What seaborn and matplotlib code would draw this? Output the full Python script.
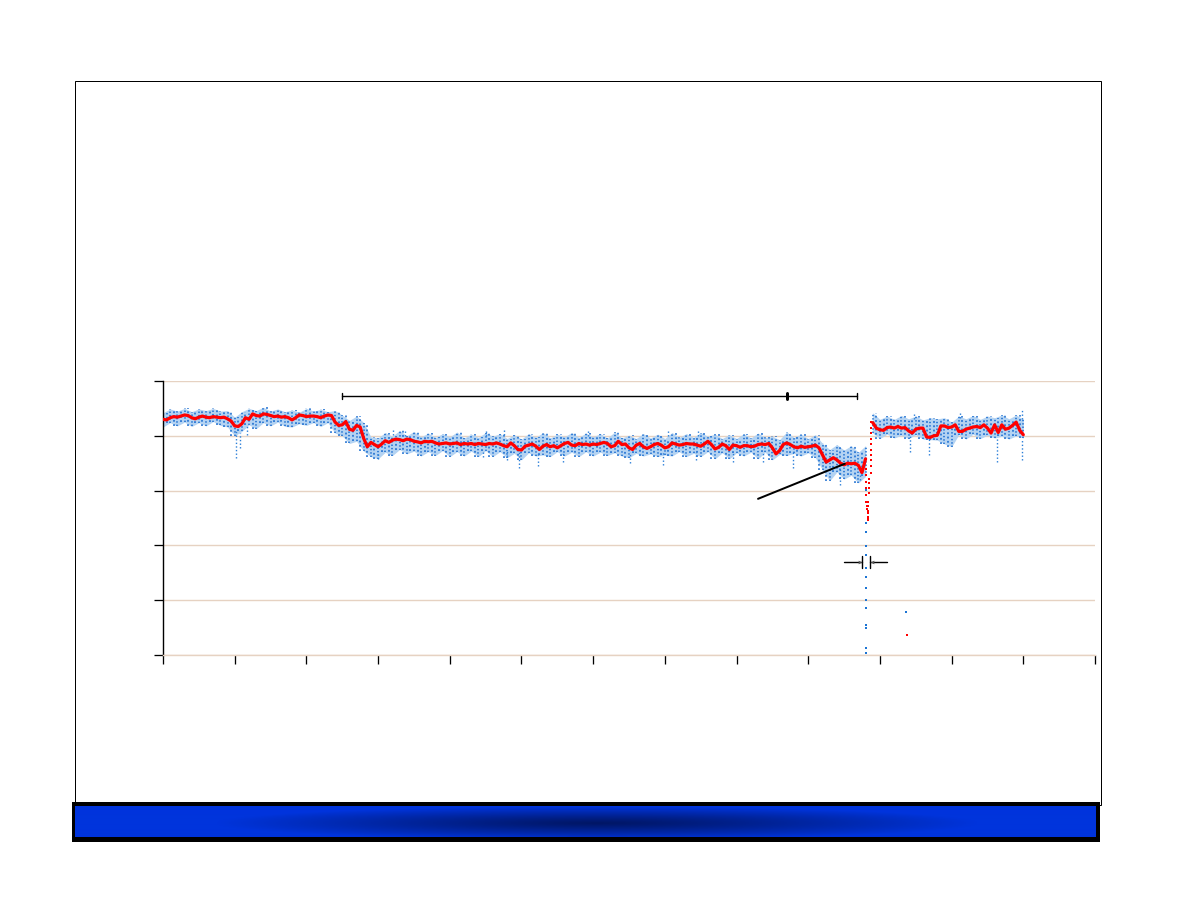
import numpy as np
import pandas as pd
import seaborn as sns
import matplotlib.pyplot as plt
from matplotlib.patches import Rectangle

# red smoothed trace, before and after the collapse (one value every 5 x units)
rojo_a = [4.30,4.29,4.33,4.35,4.34,4.36,4.38,4.37,4.33,4.31,
    4.34,4.36,4.34,4.33,4.35,4.34,4.33,4.34,4.31,4.27,
    4.18,4.17,4.22,4.33,4.30,4.40,4.37,4.36,4.40,4.39,
    4.37,4.35,4.36,4.34,4.35,4.33,4.29,4.33,4.38,4.37,
    4.35,4.36,4.36,4.35,4.33,4.36,4.38,4.37,4.25,4.19,
    4.20,4.26,4.12,4.10,4.19,4.16,3.95,3.80,3.88,3.84,
    3.80,3.85,3.91,3.88,3.92,3.94,3.93,3.91,3.94,3.93,
    3.90,3.89,3.87,3.90,3.89,3.90,3.87,3.85,3.86,3.87,
    3.85,3.86,3.87,3.84,3.86,3.85,3.86,3.84,3.86,3.85,
    3.84,3.86,3.85,3.87,3.85,3.82,3.80,3.87,3.82,3.75,
    3.74,3.81,3.83,3.85,3.81,3.75,3.81,3.84,3.80,3.82,
    3.78,3.82,3.86,3.88,3.83,3.82,3.86,3.84,3.85,3.83,
    3.85,3.84,3.86,3.88,3.86,3.80,3.82,3.90,3.84,3.85,
    3.78,3.75,3.83,3.86,3.80,3.77,3.80,3.84,3.86,3.83,
    3.78,3.80,3.87,3.85,3.83,3.84,3.86,3.85,3.85,3.83,
    3.81,3.85,3.90,3.84,3.76,3.79,3.85,3.82,3.75,3.83,
    3.82,3.79,3.82,3.82,3.80,3.81,3.84,3.85,3.84,3.86,
    3.78,3.67,3.73,3.84,3.87,3.84,3.80,3.78,3.81,3.79,
    3.80,3.81,3.83,3.78,3.65,3.52,3.56,3.60,3.56,3.50,
    3.47,3.50,3.49,3.50,3.46,3.33,3.58]
rojo_b = [4.24,4.14,4.11,4.10,4.15,4.16,4.14,4.17,4.14,4.15,
    4.09,4.05,4.12,4.14,4.14,3.98,3.97,4.00,4.01,4.18,
    4.18,4.15,4.16,4.20,4.08,4.08,4.12,4.14,4.16,4.17,
    4.15,4.20,4.14,4.05,4.20,4.06,4.20,4.12,4.14,4.19,
    4.25,4.10,4.02]

# the collapse itself, drawn as loose red dots
caida_x = [981,981,981,981,981,981,982,982,983,983,983,983,984,984,984,
    985,985,985,985,987,987,987,987,987,987,987,987,987,987,1038]
caida_y = [3.40,3.28,3.16,3.05,2.92,2.80,2.72,2.66,2.60,2.52,2.46,2.50,2.62,2.72,2.80,
    2.95,3.05,3.14,3.22,3.32,3.45,3.55,3.65,3.75,3.85,3.95,4.05,4.15,4.25,0.36]

# blue scatter, top and bottom of the band (one value every 10 x units)
banda_alta_a = [4.42,4.49,4.45,4.50,4.44,4.49,4.46,4.50,4.45,4.46,4.34,4.44,4.50,4.46,4.52,
    4.45,4.49,4.44,4.47,4.43,4.50,4.45,4.48,4.44,4.46,4.38,4.28,4.36,4.24,3.98,
    3.96,4.06,3.99,4.10,4.00,4.08,3.98,4.05,3.97,4.04,3.98,4.07,3.96,4.03,3.97,
    4.06,3.99,4.04,3.95,4.02,3.94,4.04,3.97,4.06,3.96,4.03,3.98,4.06,3.97,4.05,
    3.98,4.04,3.96,4.07,3.96,4.01,3.95,4.04,3.96,4.03,3.95,4.06,3.97,4.04,3.97,
    4.06,3.99,4.03,3.95,4.02,3.95,4.04,3.96,4.05,3.97,3.99,3.93,4.07,3.97,4.03,
    3.95,4.02,3.86,3.75,3.84,3.74,3.82,3.70,3.82]
banda_baja_a = [4.16,4.24,4.18,4.25,4.17,4.24,4.18,4.26,4.19,4.16,4.00,4.08,4.20,4.13,4.24,
    4.18,4.25,4.17,4.16,4.22,4.19,4.24,4.17,4.24,4.05,4.00,3.86,3.90,3.72,3.62,
    3.58,3.70,3.64,3.75,3.67,3.72,3.63,3.71,3.64,3.73,3.62,3.71,3.63,3.72,3.62,
    3.73,3.62,3.71,3.60,3.68,3.56,3.69,3.63,3.65,3.62,3.71,3.63,3.70,3.62,3.71,
    3.63,3.70,3.64,3.69,3.63,3.60,3.68,3.63,3.67,3.62,3.65,3.63,3.71,3.62,3.68,
    3.62,3.71,3.58,3.69,3.58,3.69,3.63,3.70,3.58,3.70,3.56,3.66,3.64,3.68,3.63,
    3.69,3.60,3.38,3.18,3.34,3.21,3.28,3.14,3.26]
banda_alta_b = [4.42,4.30,4.36,4.30,4.37,4.31,4.36,4.29,4.33,4.31,4.33,4.25,
    4.36,4.31,4.37,4.30,4.36,4.33,4.38,4.31,4.38,4.30]
banda_baja_b = [4.05,3.95,4.03,3.96,4.01,3.95,4.02,3.94,3.93,3.92,3.85,3.80,
    4.02,3.94,4.03,3.95,4.01,3.96,3.99,3.94,4.00,3.96]

# blue spikes that leave the band
pico_x = [102,107,117,300,321,338,447,451,475,480,497,523,558,593,651,697,704,746,744,795,
    837,879,944,972,1042,1047,1068,1112,1163,1198,1198]
pico_alto = [4.10,4.05,4.20,3.70,4.10,4.08,3.70,4.10,4.10,3.75,3.72,3.70,3.70,4.10,3.70,3.70,
    4.10,4.12,3.70,3.70,3.70,3.70,3.40,3.40,4.00,4.42,3.95,4.42,3.95,3.95,4.47]
pico_bajo = [3.60,3.78,4.01,3.58,4.02,4.00,3.62,4.00,4.02,3.56,3.41,3.44,3.53,4.00,3.50,3.47,
    4.00,4.00,3.56,3.53,3.53,3.41,3.10,3.20,3.71,4.30,3.65,4.32,3.53,3.56,4.30]

# isolated blue points below the band
suelto_x = [981,981,981,981,981,981,981,981,981,981,981,981,981,981,1037]
suelto_y = [3.01,2.40,2.25,1.98,1.82,1.58,1.42,1.22,1.00,0.86,0.55,0.49,0.13,0.04,0.78]

xticks = [0,100,200,300,400,500,600,700,800,900,1000,1100,1200,1300]
yticks = [0,1,2,3,4,5]
tramo_x = [250,968]
tramo_marca = 870
flecha_ini = (830,2.85)
flecha_fin = (951,3.49)

W, H = 1188, 918
def caja(x0, y0, x1, y1):
    return [x0/W, 1-y1/H, (x1-x0)/W, (y1-y0)/H]

sns.set_theme(style="white")
fig = plt.figure(figsize=(W/100, H/100), dpi=100)
px = 0.72  # one pixel in points

# slide frame and footer bar
fig.add_artist(Rectangle((75/W, 1-805/H), 1026/W, 724/H, transform=fig.transFigure,
    facecolor="none", edgecolor="black", linewidth=px, zorder=-2))
fig.add_artist(Rectangle((72/W, 1-842/H), 1028/W, 40/H, transform=fig.transFigure,
    facecolor="black", edgecolor="none", zorder=-1))

barra = fig.add_axes(caja(75, 806, 1096, 837))
gx, gy = np.meshgrid(np.arange(75, 1096), np.arange(806, 837))
t = np.clip(np.sqrt(((gx-597)/380)**2 + ((gy-823)/16)**2), 0, 1)[..., None]
oscuro = np.array([0, 22, 100])/255
azul = np.array([0, 52, 220])/255
barra.imshow(oscuro + (azul-oscuro)*t**1.1, aspect="auto")
barra.axis("off")

ax = fig.add_axes(caja(163, 381, 1095, 655))
ax.patch.set_alpha(0)
ax.set_xlim(0, 1300)
ax.set_ylim(0, 5)

x_a = np.arange(0, 985, 5)
x_b = np.arange(990, 1205, 5)
xb_a = np.arange(0, 990, 10)
xb_b = np.arange(990, 1210, 10)

for xs, alta, baja in [(xb_a, banda_alta_a, banda_baja_a), (xb_b, banda_alta_b, banda_baja_b)]:
    ax.fill_between(xs, baja, alta, facecolor="#b4d3f2", linewidth=0, zorder=2)
    ax.vlines(xs, baja, alta, color="#1469cf", linewidth=1.1, linestyles=(0, (0.9, 1.3)), zorder=2)
    ax.vlines(xs[:-1]+5, baja[1:], alta[:-1], color="#1469cf", linewidth=1.1, linestyles=(0, (1.2, 1.6)), zorder=2)
ax.vlines(pico_x, pico_bajo, pico_alto, color="#2a7fd8", linewidth=1.0, linestyles=(0, (1, 1.6)), zorder=2)

sueltos = pd.DataFrame({"x": suelto_x, "y": suelto_y})
sns.scatterplot(data=sueltos, x="x", y="y", color="#1c74d4", s=1.8, marker="s", linewidth=0, ax=ax, zorder=3)

df_a = pd.DataFrame({"x": x_a, "y": rojo_a})
df_b = pd.DataFrame({"x": x_b, "y": rojo_b})
sns.lineplot(data=df_a, x="x", y="y", color="#ff0000", linewidth=2.3, ax=ax, zorder=4)
sns.lineplot(data=df_b, x="x", y="y", color="#ff0000", linewidth=2.3, ax=ax, zorder=4)
caida = pd.DataFrame({"x": caida_x, "y": caida_y})
sns.scatterplot(data=caida, x="x", y="y", color="#ff0000", s=2.0, marker="s", linewidth=0, ax=ax, zorder=4)

# bracket over the degraded stretch
ax.plot(tramo_x, [4.73, 4.73], color="black", linewidth=1.4*px, zorder=5)
ax.plot([tramo_x[0]]*2, [4.68, 4.78], color="black", linewidth=1.4*px, zorder=5)
ax.plot([tramo_x[1]]*2, [4.68, 4.78], color="black", linewidth=1.4*px, zorder=5)
ax.plot([tramo_marca]*2, [4.68, 4.78], color="black", linewidth=3*px, zorder=5)

# pointer to the trace
ax.plot([flecha_ini[0], flecha_fin[0]], [flecha_ini[1], flecha_fin[1]], color="black", linewidth=2*px, zorder=5)

# width marker around the collapse
ax.plot([950, 975], [1.70, 1.70], color="black", linewidth=1.4*px, zorder=5)
ax.plot([986, 1010], [1.70, 1.70], color="black", linewidth=1.4*px, zorder=5)
ax.plot([975, 975], [1.59, 1.81], color="black", linewidth=1.4*px, zorder=5)
ax.plot([986, 986], [1.59, 1.81], color="black", linewidth=1.4*px, zorder=5)
ax.scatter([972], [1.70], marker=">", s=7, color="#555555", linewidth=0, zorder=6)
ax.scatter([989], [1.70], marker="<", s=7, color="#555555", linewidth=0, zorder=6)

ax.set_xticks(xticks)
ax.set_yticks(yticks)
ax.set_xticklabels([])
ax.set_yticklabels([])
ax.set_xlabel("")
ax.set_ylabel("")
ax.grid(axis="y", color="#e6d2c2", linewidth=1.4*px, zorder=0)
ax.set_axisbelow(True)
ax.tick_params(axis="both", length=9*px, width=1.3*px, color="black", direction="out",
    bottom=True, left=True)
for lado in ["top", "right"]:
    ax.spines[lado].set_visible(False)
ax.spines["bottom"].set_color("#e6d2c2")
ax.spines["bottom"].set_linewidth(1.4*px)
ax.spines["left"].set_color("black")
ax.spines["left"].set_linewidth(1.4*px)

plt.savefig("out.png", dpi=100)
plt.close()
